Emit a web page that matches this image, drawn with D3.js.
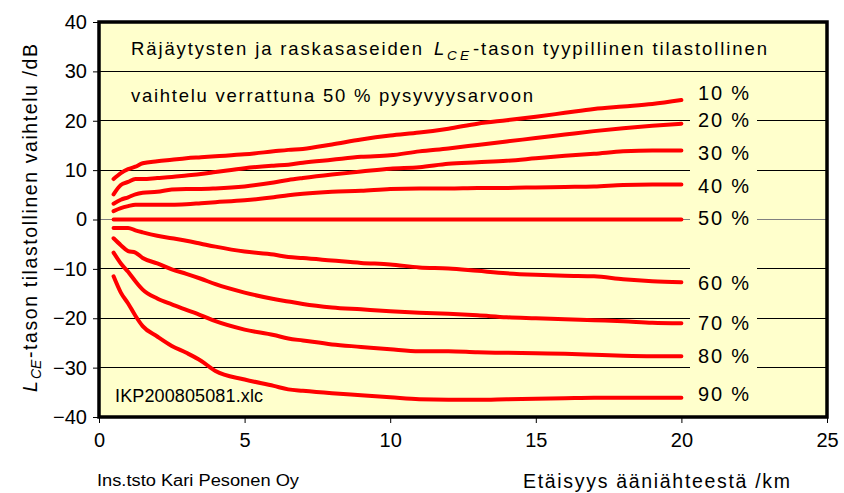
<!DOCTYPE html>
<html><head><meta charset="utf-8">
<script src="https://cdn.jsdelivr.net/npm/d3@7"></script>
<style>body{margin:0;background:#fff}svg{display:block;font-family:Arial,"Liberation Sans",sans-serif}</style>
</head><body><svg id="c" width="844" height="493"></svg>
<script>
const distances = [0.5,0.75,1,1.25,1.5,2,2.5,3,3.5,4,5,6,6.5,7,8,9,10,11,12,13,14,15,16,17,18,19,20];
const p10 = [8.2,9.4,10.2,10.7,11.4,11.8,12.1,12.4,12.6,12.8,13.2,13.8,14.1,14.3,15.2,16.2,17.0,17.6,18.4,19.4,20.1,20.8,21.6,22.4,22.9,23.4,24.2];
const p20 = [5.1,7.0,7.6,8.2,8.2,8.4,8.6,8.9,9.2,9.6,10.4,10.9,11.1,11.5,12.1,12.7,13.0,13.8,14.4,15.1,15.8,16.5,17.2,17.9,18.5,19.0,19.4];
const p30 = [3.2,4.0,4.5,5.1,5.4,5.6,6.1,6.2,6.2,6.3,6.7,7.5,8.0,8.4,9.1,9.7,10.3,10.6,11.3,11.6,11.9,12.4,12.9,13.3,13.8,14.0,14.0];
const p40 = [1.7,2.3,2.7,3.0,3.0,3.0,3.0,3.1,3.3,3.5,3.9,4.5,4.9,5.2,5.6,5.8,6.2,6.3,6.3,6.4,6.4,6.5,6.6,6.7,7.0,7.1,7.1];
const p50 = [0,0,0,0,0,0,0,0,0,0,0,0,0,0,0,0,0,0,0,0,0,0,0,0,0,0,0];
const p60 = [-1.7,-1.7,-1.7,-2.2,-2.6,-3.3,-3.8,-4.3,-4.9,-5.5,-6.5,-7.1,-7.6,-7.8,-8.3,-8.8,-9.1,-9.7,-9.9,-10.4,-10.9,-11.2,-11.4,-11.5,-12.1,-12.5,-12.7];
const p70 = [-3.8,-5.2,-6.4,-6.7,-7.8,-8.9,-10.1,-11.0,-12.0,-13.1,-14.8,-16.1,-16.6,-17.1,-17.8,-18.2,-18.6,-18.9,-19.1,-19.4,-19.8,-20.0,-20.2,-20.4,-20.6,-20.9,-21.0];
const p80 = [-6.7,-8.9,-10.6,-12.5,-14.2,-16.0,-17.2,-18.3,-19.4,-20.6,-22.3,-23.4,-24.1,-24.5,-25.3,-25.8,-26.3,-26.7,-26.7,-26.9,-27.0,-27.1,-27.2,-27.4,-27.6,-27.7,-27.7];
const p90 = [-11.5,-14.8,-17.0,-19.5,-21.6,-23.7,-25.6,-27.0,-28.6,-30.7,-32.4,-33.7,-34.4,-34.7,-35.2,-35.6,-36.0,-36.4,-36.5,-36.5,-36.4,-36.3,-36.2,-36.1,-36.1,-36.1,-36.1];
const seriesNames = ["10 %","20 %","30 %","40 %","50 %","60 %","70 %","80 %","90 %"];
const seriesValues = [p10,p20,p30,p40,p50,p60,p70,p80,p90];
const labelAt = [25.6,20.1,13.6,6.9,0.4,-12.9,-20.9,-27.6,-35.3];
const xTicks = [0,5,10,15,20,25];
const yTicks = [-40,-30,-20,-10,0,10,20,30,40];

const svg = d3.select("#c");
const x = d3.scaleLinear().domain([0,25]).range([99,827]);
const y = d3.scaleLinear().domain([-40,40]).range([417,22]);

svg.append("rect").attr("x",x(0)).attr("y",y(40)).attr("width",x(25)-x(0)).attr("height",y(-40)-y(40)).attr("fill","#FFFFCC");

svg.append("g").selectAll("line").data(yTicks.filter(v=>v>-40&&v<40)).join("line")
  .attr("x1",x(0)).attr("x2",x(25)).attr("y1",d=>y(d)).attr("y2",d=>y(d))
  .attr("stroke",d=>d===0?"#808080":"#000").attr("stroke-width",1).attr("shape-rendering","crispEdges");

const yAxis = d3.axisLeft(y).tickValues(yTicks).tickSize(6).tickPadding(5);
const gy = svg.append("g").attr("transform",`translate(${x(0)},0)`).call(yAxis);
const xAxis = d3.axisBottom(x).tickValues(xTicks).tickSize(6).tickPadding(10);
const gx = svg.append("g").attr("transform",`translate(0,${y(-40)})`).call(xAxis);
[gy,gx].forEach(g=>{g.select(".domain").remove();g.selectAll("text").attr("font-size",20).attr("fill","#000").attr("font-family","Arial, 'Liberation Sans', sans-serif");g.selectAll("line").attr("stroke","#000");});
gy.selectAll("text").attr("dx",-1);

const line = d3.line().x((d,i)=>x(distances[i])).y(d=>y(d)).curve(d3.curveMonotoneX);
svg.append("g").selectAll("path").data(seriesValues).join("path")
  .attr("d",d=>line(d)).attr("fill","none").attr("stroke","#FF0000").attr("stroke-width",4).attr("stroke-linejoin","round").attr("stroke-linecap","round");

const lg = svg.append("g");
seriesNames.forEach((n,i)=>{
  lg.append("rect").attr("x",690).attr("y",y(labelAt[i])-17).attr("width",67).attr("height",34).attr("fill","#FFFFCC");
});
seriesNames.forEach((n,i)=>{
  lg.append("text").attr("x",698).attr("y",y(labelAt[i])).attr("dy","0.36em").attr("font-size",20).attr("textLength",51).text(n);
});

svg.append("rect").attr("x",x(0)).attr("y",y(40)).attr("width",x(25)-x(0)).attr("height",y(-40)-y(40))
  .attr("fill","none").attr("stroke","#000").attr("stroke-width",3.5);

// title
const t1 = svg.append("text").attr("y",55).attr("font-size",18.5);
t1.append("tspan").attr("x",131).attr("textLength",291).text("Räjäytysten ja raskasaseiden");
t1.append("tspan").attr("x",434).attr("font-style","italic").text("L");
t1.append("tspan").attr("x",447).attr("font-style","italic").attr("font-size",13.5).attr("dy",5).attr("textLength",22).text("CE");
t1.append("tspan").attr("x",473).attr("dy",-5).attr("textLength",294).text("-tason tyypillinen tilastollinen");
svg.append("text").attr("x",131).attr("y",102).attr("font-size",18.5).attr("textLength",402).text("vaihtelu verrattuna 50 % pysyvyysarvoon");

svg.append("text").attr("x",115).attr("y",402).attr("font-size",18).attr("textLength",148).text("IKP200805081.xlc");

const yl = svg.append("text").attr("transform","translate(37,218) rotate(-90)").attr("font-size",19.5);
yl.append("tspan").attr("x",-174).attr("font-style","italic").text("L");
yl.append("tspan").attr("x",-161).attr("font-style","italic").attr("font-size",14).attr("dy",4).text("CE");
yl.append("tspan").attr("x",-140).attr("dy",-4).attr("textLength",314).text("-tason tilastollinen vaihtelu /dB");

svg.append("text").attr("x",97).attr("y",486).attr("font-size",16).attr("textLength",202).attr("lengthAdjust","spacingAndGlyphs").text("Ins.tsto Kari Pesonen Oy");
svg.append("text").attr("x",523).attr("y",488).attr("font-size",19.5).attr("textLength",267).text("Etäisyys ääniähteestä /km");
</script></body></html>
